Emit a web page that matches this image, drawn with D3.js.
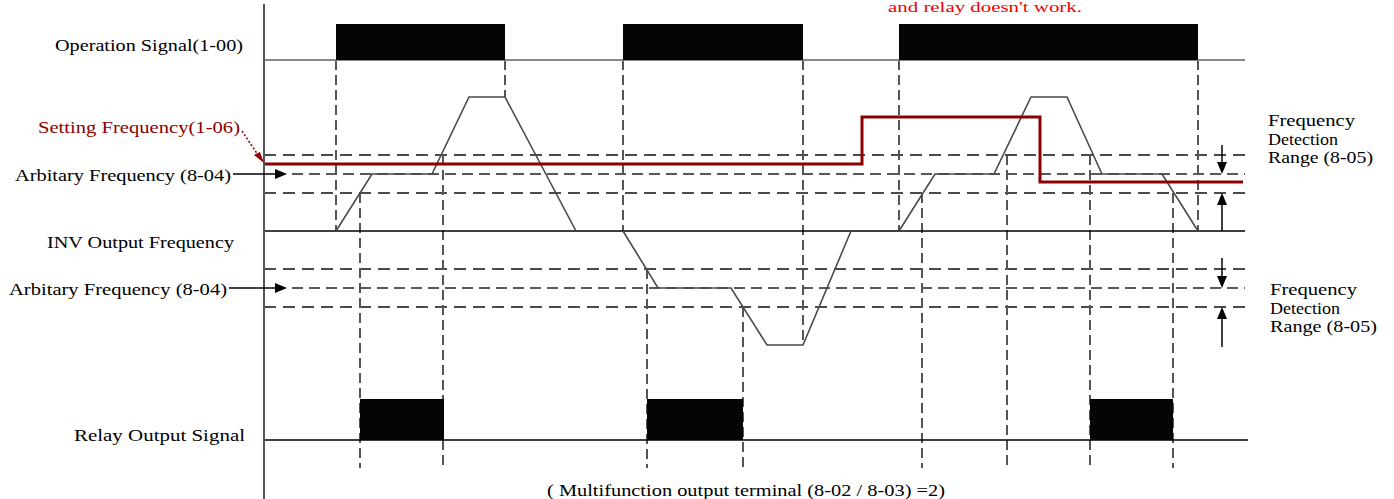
<!DOCTYPE html>
<html lang="en">
<head>
    <meta charset="UTF-8">
    <title>Frequency Detection Timing</title>
    <script src="https://cdn.jsdelivr.net/npm/d3@7/dist/d3.min.js"></script>
    <style>
        body { margin: 0; background: #ffffff; }
        text { font-family: "Liberation Serif", "DejaVu Serif", serif; }
    </style>
</head>
<body>
<div id="container"></div>
<script>
    // time in ticks from the left axis, frequency in units (0 = INV output base line)
    let opPulses = [[72, 241], [359, 539], [635, 934]];
    let relayPulses = [[96, 180], [383, 479], [826, 909]];
    let invTrace = [
        [[72, 0], [108, 57], [168, 57], [205, 134], [241, 134], [312, 0]],
        [[359, 0], [394, -57], [467, -57], [503, -114], [539, -114], [587, 0]],
        [[635, 0], [671, 57], [730, 57], [767, 134], [803, 134], [838, 57], [898, 57], [934, 0]]
    ];
    let settingFreq = [[0, 67], [598, 67], [598, 114], [776, 114], [776, 49], [979, 49]];
    let arbitraryFreq = [57, -57];
    let detectLevels = [76, 38, -38, -76];
    // operation edges: dashed from the operation signal down to the trace
    let opEdges = [[72, 0], [241, 134], [359, 0], [539, -114], [635, 0], [934, 0]];
    // detection crossings: dashed from the trace down past the relay signal
    let crossEdges = [[96, 38], [179, 76], [383, -38], [479, -76], [658, 38], [743, 76], [826, 76], [909, 38]];
    // range arrows on the right: [from, to]
    let rangeArrows = [[86, 57], [0, 38], [-27, -57], [-116, -76]];
    let rangeTime = 958;

    let leftLabels = [
        {text: "Operation Signal(1-00)", x1: 55, x2: 243, y: 51, color: "#000"},
        {text: "Setting Frequency(1-06)", x1: 38, x2: 240, y: 133, color: "#8b0000"},
        {text: "Arbitary Frequency (8-04)", x1: 15, x2: 231, y: 181, color: "#000"},
        {text: "INV Output Frequency", x1: 47, x2: 234, y: 248, color: "#000"},
        {text: "Arbitary Frequency (8-04)", x1: 9, x2: 227, y: 295, color: "#000"},
        {text: "Relay Output Signal", x1: 74, x2: 245, y: 441, color: "#000"},
        {text: "( Multifunction output terminal (8-02 / 8-03) =2)", x1: 547, x2: 945, y: 496, color: "#000"}
    ];
    let noteLabel = {text: "and relay doesn't work.", x1: 888, x2: 1082, y: 12, color: "#ee0000"};
    let rightLabels = [
        {lines: ["Frequency", "Detection", "Range (8-05)"], widths: [87, 70, 105], x: 1268, y: 126},
        {lines: ["Frequency", "Detection", "Range (8-05)"], widths: [87, 70, 107], x: 1270, y: 295}
    ];

    let svg = d3.select("#container")
        .append('svg')
        .attr("width", 1394)
        .attr("height", 499)
        .style('background-color', '#ffffff');

    let x = d3.scaleLinear().domain([0, 981]).range([264, 1245]);
    let y = d3.scaleLinear().domain([-114, 134]).range([345, 97]);

    let opBase = 60, opHigh = 24;
    let relayBase = 440, relayHigh = 399, relayDashEnd = 468;

    function arrowHead(px, py, dir, color) {
        // dir: 'right', 'down', 'up'
        let p;
        if (dir === 'right') p = [[px, py], [px - 12, py - 5], [px - 12, py + 5]];
        if (dir === 'down') p = [[px, py], [px - 5, py - 12], [px + 5, py - 12]];
        if (dir === 'up') p = [[px, py], [px - 5, py + 12], [px + 5, py + 12]];
        svg.append("path")
            .attr("d", "M" + p.join("L") + "Z")
            .attr("fill", color);
    }

    // horizontal dashed detection lines
    svg.selectAll(".det")
        .data(detectLevels)
        .enter().append("line")
        .attr("x1", x(0)).attr("x2", x(981))
        .attr("y1", function(d) { return y(d); })
        .attr("y2", function(d) { return y(d); })
        .attr("stroke", "#111")
        .attr("stroke-width", 1.5)
        .attr("stroke-dasharray", "12,7");

    svg.selectAll(".arb")
        .data(arbitraryFreq)
        .enter().append("line")
        .attr("x1", x(28)).attr("x2", x(981))
        .attr("y1", function(d) { return y(d); })
        .attr("y2", function(d) { return y(d); })
        .attr("stroke", "#222")
        .attr("stroke-width", 1.5)
        .attr("stroke-dasharray", "11,6");

    // vertical dashed guides
    svg.selectAll(".opEdge")
        .data(opEdges)
        .enter().append("line")
        .attr("x1", function(d) { return x(d[0]); })
        .attr("x2", function(d) { return x(d[0]); })
        .attr("y1", opBase)
        .attr("y2", function(d) { return y(d[1]); })
        .attr("stroke", "#555")
        .attr("stroke-width", 2)
        .attr("stroke-dasharray", "10,5");

    svg.selectAll(".crossEdge")
        .data(crossEdges)
        .enter().append("line")
        .attr("x1", function(d) { return x(d[0]); })
        .attr("x2", function(d) { return x(d[0]); })
        .attr("y1", function(d) { return y(d[1]); })
        .attr("y2", relayDashEnd)
        .attr("stroke", "#555")
        .attr("stroke-width", 2)
        .attr("stroke-dasharray", "10,5");

    // base lines
    svg.append("line")
        .attr("x1", x(0)).attr("x2", x(981))
        .attr("y1", opBase).attr("y2", opBase)
        .attr("stroke", "#888").attr("stroke-width", 2);
    svg.append("line")
        .attr("x1", x(0)).attr("x2", x(981))
        .attr("y1", y(0)).attr("y2", y(0))
        .attr("stroke", "#000").attr("stroke-width", 1.5);
    svg.append("line")
        .attr("x1", x(0)).attr("x2", x(984))
        .attr("y1", relayBase).attr("y2", relayBase)
        .attr("stroke", "#000").attr("stroke-width", 1.5);

    // pulses
    svg.selectAll(".op")
        .data(opPulses)
        .enter().append("rect")
        .attr("x", function(d) { return x(d[0]); })
        .attr("width", function(d) { return x(d[1]) - x(d[0]); })
        .attr("y", opHigh)
        .attr("height", opBase - opHigh)
        .attr("fill", "#050505");

    svg.selectAll(".relay")
        .data(relayPulses)
        .enter().append("rect")
        .attr("x", function(d) { return x(d[0]); })
        .attr("width", function(d) { return x(d[1]) - x(d[0]); })
        .attr("y", relayHigh)
        .attr("height", relayBase - relayHigh)
        .attr("fill", "#050505");

    // INV output frequency
    let line = d3.line()
        .x(function(d) { return x(d[0]); })
        .y(function(d) { return y(d[1]); });

    svg.selectAll(".inv")
        .data(invTrace)
        .enter().append("path")
        .attr("d", line)
        .attr("fill", "none")
        .attr("stroke", "#4a4a4a")
        .attr("stroke-width", 1.6);

    // setting frequency
    svg.append("path")
        .datum(settingFreq)
        .attr("d", line)
        .attr("fill", "none")
        .attr("stroke", "#8b0000")
        .attr("stroke-width", 3);

    // left axis
    svg.append("line")
        .attr("x1", x(0)).attr("x2", x(0))
        .attr("y1", 4).attr("y2", 499)
        .attr("stroke", "#555").attr("stroke-width", 2);

    // arrows from arbitrary frequency labels
    arbitraryFreq.forEach(function(f, i) {
        let x0 = i === 0 ? 233 : 229;
        svg.append("line")
            .attr("x1", x0).attr("x2", x(15))
            .attr("y1", y(f)).attr("y2", y(f))
            .attr("stroke", "#000").attr("stroke-width", 1.3);
        arrowHead(x(23), y(f), 'right', "#000");
    });

    // detection range arrows
    rangeArrows.forEach(function(a) {
        let dir = a[1] < a[0] ? 'down' : 'up';
        svg.append("line")
            .attr("x1", x(rangeTime)).attr("x2", x(rangeTime))
            .attr("y1", y(a[0])).attr("y2", y(a[1]) + (dir === 'down' ? -6 : 6))
            .attr("stroke", "#000").attr("stroke-width", 1.5);
        arrowHead(x(rangeTime), y(a[1]), dir, "#000");
    });

    // setting frequency pointer
    svg.append("line")
        .attr("x1", 242).attr("y1", 131)
        .attr("x2", x(0) - 4).attr("y2", y(67) - 6)
        .attr("stroke", "#8b0000").attr("stroke-width", 1.6)
        .attr("stroke-dasharray", "2,2");
    svg.append("path")
        .attr("d", "M" + x(0) + "," + (y(67) - 1) + "L" + (x(0) - 10) + "," + (y(67) - 9) + "L" + (x(0) - 4) + "," + (y(67) - 12) + "Z")
        .attr("fill", "#8b0000");

    // labels
    svg.selectAll(".lbl")
        .data(leftLabels)
        .enter().append("text")
        .attr("x", function(d) { return d.x1; })
        .attr("y", function(d) { return d.y; })
        .attr("textLength", function(d) { return d.x2 - d.x1; })
        .attr("lengthAdjust", "spacingAndGlyphs")
        .attr("font-size", "17px")
        .attr("fill", function(d) { return d.color; })
        .text(function(d) { return d.text; });

    svg.append("text")
        .attr("x", noteLabel.x1)
        .attr("y", noteLabel.y)
        .attr("textLength", noteLabel.x2 - noteLabel.x1)
        .attr("lengthAdjust", "spacingAndGlyphs")
        .attr("font-size", "14px")
        .attr("fill", noteLabel.color)
        .text(noteLabel.text);

    rightLabels.forEach(function(r) {
        r.lines.forEach(function(t, i) {
            svg.append("text")
                .attr("x", r.x)
                .attr("y", r.y + i * 18.5)
                .attr("textLength", r.widths[i])
                .attr("lengthAdjust", "spacingAndGlyphs")
                .attr("font-size", "16px")
                .attr("fill", "#000")
                .text(t);
        });
    });
</script>
</body>
</html>
